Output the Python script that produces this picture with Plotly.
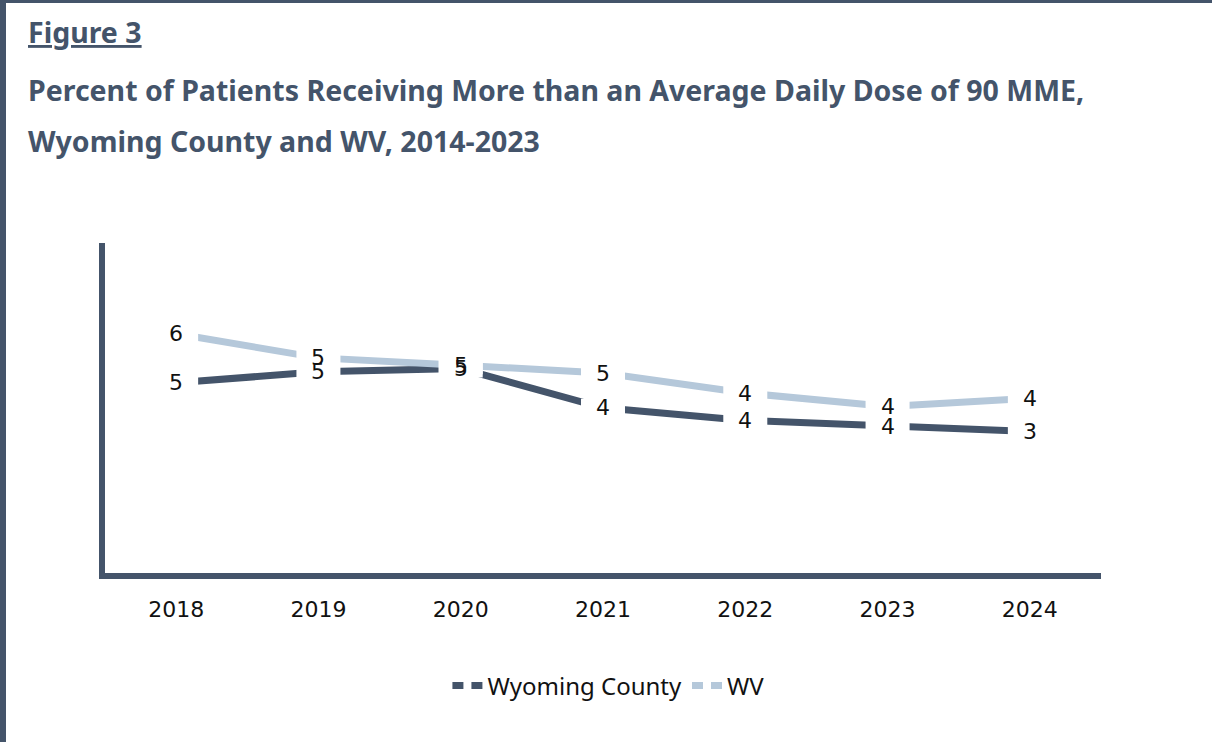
import plotly.graph_objects as go

years = ["2018", "2019", "2020", "2021", "2022", "2023", "2024"]
wyoming = [4.58, 4.85, 4.93, 3.97, 3.66, 3.52, 3.39]
wv = [5.78, 5.19, 5.01, 4.82, 4.33, 4.00, 4.20]
series_names = ["Wyoming County", "WV"]

DARK = "#44546A"
LIGHT = "#B5C8DA"
W, H = 1212, 742
NUM_FONT = "DejaVu Sans"

fig = go.Figure()
for name, vals, col in [(series_names[0], wyoming, DARK), (series_names[1], wv, LIGHT)]:
    fig.add_trace(go.Scatter(x=years, y=vals, mode="lines", line=dict(color=col, width=7),
                             showlegend=False, hoverinfo="skip"))
# legend-only entries showing the broken-line symbol
for name, col in [(series_names[0], DARK), (series_names[1], LIGHT)]:
    fig.add_trace(go.Scatter(x=[None], y=[None], mode="lines", name=name,
                             line=dict(color=col, width=7, dash="11px,8px,11px")))

shapes = []
# white masks (pixel-sized, anchored at each data point) opening gaps in the lines around labels
for vals in (wyoming, wv):
    for i, v in enumerate(vals):
        shapes.append(dict(type="rect", xref="x", yref="y", xsizemode="pixel", ysizemode="pixel",
                           xanchor=i, yanchor=v, x0=-22, x1=22, y0=-9, y1=9,
                           fillcolor="white", line=dict(width=0), layer="above"))
shapes.append(dict(type="rect", xref="paper", yref="paper", x0=3 / W, x1=1.02, y0=-0.02, y1=1,
                   line=dict(color=DARK, width=6), layer="above"))

annotations = []
for vals in (wyoming, wv):
    for i, v in enumerate(vals):
        annotations.append(dict(x=i, y=v, xref="x", yref="y", text=f"{v:.0f}", showarrow=False,
                                font=dict(color="#111111", size=22, family=NUM_FONT),
                                xanchor="center", yanchor="middle"))

title_font = dict(family="Noto Sans", size=28.5, color=DARK)
annotations.append(dict(x=26 / W, y=1 - 32 / H, xref="paper", yref="paper", xanchor="left", yanchor="middle",
                        text="<b><u>Figure 3</u></b>", showarrow=False, font=title_font))
annotations.append(dict(x=26 / W, y=1 - 90 / H, xref="paper", yref="paper", xanchor="left", yanchor="middle",
                        text="<b>Percent of Patients Receiving More than an Average Daily Dose of 90 MME,</b>",
                        showarrow=False, font=title_font))
annotations.append(dict(x=26 / W, y=1 - 141 / H, xref="paper", yref="paper", xanchor="left", yanchor="middle",
                        text="<b>Wyoming County and WV, 2014-2023</b>", showarrow=False, font=title_font))

fig.update_layout(
    width=W, height=H,
    margin=dict(l=0, r=0, t=0, b=0),
    paper_bgcolor="white", plot_bgcolor="white",
    xaxis=dict(domain=[105 / W, 1101 / W], type="category", range=[-0.5, 6.5],
               showline=True, linewidth=6, linecolor=DARK, showgrid=False, zeroline=False,
               ticks="", tickfont=dict(family=NUM_FONT, size=22, color="#111111"),
               ticklabelstandoff=12),
    yaxis=dict(domain=[1 - 573 / H, 1 - 243 / H], range=[-0.072, 8], showline=True, linewidth=6,
               linecolor=DARK, showgrid=False, zeroline=False, showticklabels=False, ticks=""),
    legend=dict(orientation="h", x=0.502, xanchor="center", y=1 - 686 / H, yanchor="middle",
                font=dict(family="Noto Sans", size=24, color="#111111")),
    annotations=annotations,
    shapes=shapes,
)

fig.write_html("out.html", config={"displayModeBar": False},
               post_script="document.body.style.margin='0';")
